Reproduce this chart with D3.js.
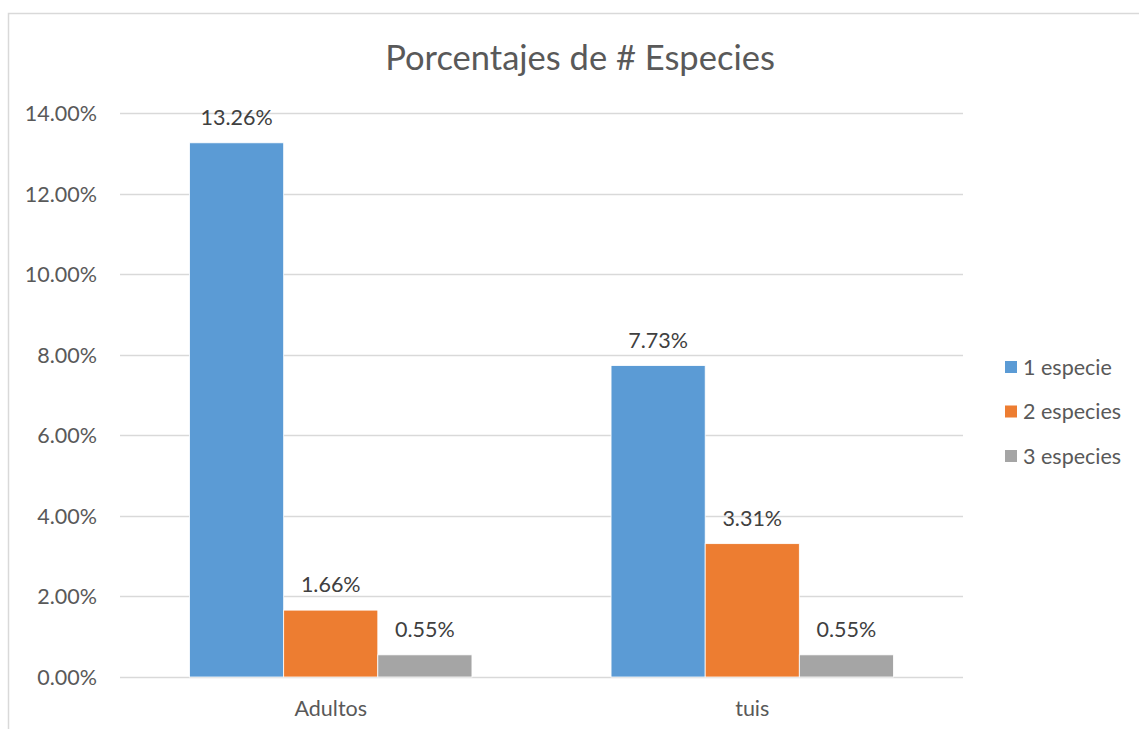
<!DOCTYPE html>
<html>
<head>
<meta charset="utf-8">
<script src="https://cdn.jsdelivr.net/npm/d3@7"></script>
<style>
  html, body { margin: 0; padding: 0; background: #fff; }
  svg { display: block; font-family: Lato, "Open Sans", sans-serif; }
</style>
</head>
<body>
<svg id="chart" width="1139" height="729"></svg>
<script>
// Share of cases by number of species, per age group
const categories = ["Adultos", "tuis"];
const seriesNames = ["1 especie", "2 especies", "3 especies"];
const values1 = [13.26, 7.73];
const values2 = [1.66, 3.31];
const values3 = [0.55, 0.55];
const yTicks = [0, 2, 4, 6, 8, 10, 12, 14];
const colors = ["#5B9BD5", "#ED7D31", "#A5A5A5"];

const seriesValues = [values1, values2, values3];

const svg = d3.select("#chart");

// chart frame
svg.append("rect")
  .attr("x", 8.5).attr("y", 13.5)
  .attr("width", 1140).attr("height", 730)
  .attr("fill", "#fff").attr("stroke", "#d9d9d9").attr("stroke-width", 1.5);

const plot = { left: 120, right: 963, top: 113, bottom: 677 };

const y = d3.scaleLinear().domain([0, 14]).range([plot.bottom, plot.top]);
const x0 = d3.scaleBand().domain(categories).range([plot.left, plot.right]).paddingInner(0.33).paddingOuter(0.165);
const x1 = d3.scaleBand().domain(seriesNames).range([0, x0.bandwidth()]);

// title
svg.append("text")
  .attr("x", 580).attr("y", 70)
  .attr("text-anchor", "middle")
  .attr("font-size", 34.5)
  .attr("fill", "#595959")
  .text("Porcentajes de # Especies");

// gridlines
svg.append("g")
  .selectAll("line")
  .data(yTicks)
  .join("line")
  .attr("x1", plot.left).attr("x2", plot.right)
  .attr("y1", d => Math.round(y(d)) + 0.5).attr("y2", d => Math.round(y(d)) + 0.5)
  .attr("stroke", "#d9d9d9").attr("stroke-width", 1.5);

// y axis labels
const yAxis = d3.axisLeft(y).tickValues(yTicks).tickSize(0).tickPadding(0)
  .tickFormat(d => d.toFixed(2) + "%");
const yg = svg.append("g").attr("transform", `translate(97,0)`).call(yAxis);
yg.select(".domain").remove();
yg.selectAll("text").attr("font-size", 21.5).attr("fill", "#595959").attr("font-family", "Lato, sans-serif").attr("dy", "0.35em");

// x axis labels
const xAxis = d3.axisBottom(x0).tickSize(0).tickPadding(0);
const xg = svg.append("g").attr("transform", `translate(0,${plot.bottom})`).call(xAxis);
xg.select(".domain").remove();
xg.selectAll("text").attr("font-size", 21.5).attr("fill", "#595959").attr("font-family", "Lato, sans-serif").attr("dy", "0").attr("y", 39);

// bars
const groups = svg.append("g")
  .selectAll("g")
  .data(categories)
  .join("g")
  .attr("transform", d => `translate(${x0(d)},0)`);

groups.selectAll("rect")
  .data((c, i) => seriesNames.map((s, j) => ({ s, j, v: seriesValues[j][i] })))
  .join("rect")
  .attr("x", d => x1(d.s))
  .attr("width", x1.bandwidth())
  .attr("y", d => y(d.v))
  .attr("height", d => y(0) - y(d.v))
  .attr("fill", d => colors[d.j])
  .attr("stroke", "#fff").attr("stroke-width", 0.8);

// value labels
groups.selectAll("text")
  .data((c, i) => seriesNames.map((s, j) => ({ s, j, v: seriesValues[j][i] })))
  .join("text")
  .attr("x", d => x1(d.s) + x1.bandwidth() / 2)
  .attr("y", d => y(d.v) - 18)
  .attr("text-anchor", "middle")
  .attr("font-size", 21.5)
  .attr("fill", "#404040")
  .text(d => d.v.toFixed(2) + "%");

// legend
const legend = svg.append("g")
  .selectAll("g")
  .data(seriesNames)
  .join("g")
  .attr("transform", (d, i) => `translate(1005,${367 + i * 44.5})`);
legend.append("rect")
  .attr("x", 0).attr("y", -6).attr("width", 12).attr("height", 12)
  .attr("fill", (d, i) => colors[i]);
legend.append("text")
  .attr("x", 18).attr("y", 0).attr("dy", "0.35em")
  .attr("font-size", 21.5)
  .attr("fill", "#595959")
  .text(d => d);
</script>
</body>
</html>
